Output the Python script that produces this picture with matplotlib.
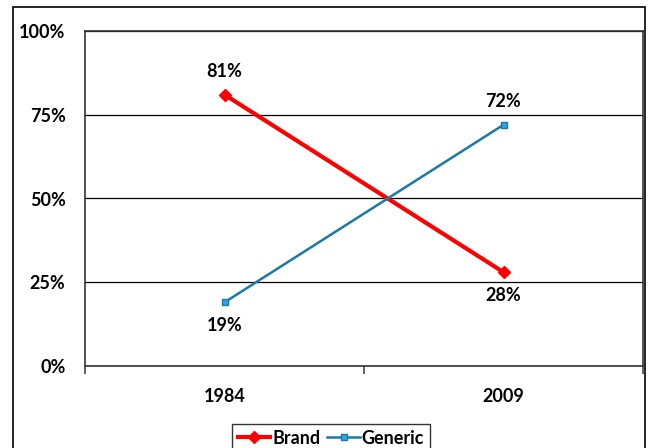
import matplotlib.pyplot as plt
from matplotlib.patches import Rectangle
from matplotlib.ticker import FixedLocator

# Share of prescriptions
years = ["1984", "2009"]
brand = [81, 28]
generic = [19, 72]

plt.rcParams["font.family"] = ["Lato", "DejaVu Sans"]
plt.rcParams["font.weight"] = "bold"
FS = 13

fig = plt.figure(figsize=(6.48, 4.48), dpi=100)
ax = fig.add_axes([85 / 648, 82 / 448, 558 / 648, 335 / 448])

# outer chart frame (runs off the bottom edge like the original)
fig.patches.append(Rectangle((13 / 648, -0.05), 632 / 648, 1.05 - 7 / 448,
                             transform=fig.transFigure, fill=False,
                             edgecolor="black", linewidth=1.2, zorder=0))

xs = [0, 1]
ax.plot(xs, brand, color="#ff0000", linewidth=3, marker="D", markersize=6,
        label="Brand", zorder=3)
ax.plot(xs, generic, color="#1a7aa6", linewidth=1.8, marker="s", markersize=5,
        markerfacecolor="#2fa6db", markeredgecolor="#1a7aa6", label="Generic",
        zorder=3)

for series in (brand, generic):
    for x, v in zip(xs, series):
        off = 17 if v > 50 else -17
        ax.annotate(f"{v}%", (x, v), xytext=(0, off), textcoords="offset points",
                    ha="center", va="center", fontsize=FS, fontweight="bold")

ax.set_xlim(-0.5, 1.5)
ax.set_ylim(0, 100)
ax.set_yticks([0, 25, 50, 75, 100])
ax.set_yticklabels(["0%", "25%", "50%", "75%", "100%"], fontsize=FS,
                   fontweight="bold")
ax.tick_params(axis="y", length=0, pad=14)
ax.yaxis.grid(True, color="black", linewidth=0.9)
ax.set_axisbelow(True)

ax.set_xticks(xs)
ax.set_xticklabels(years, fontsize=FS, fontweight="bold")
ax.tick_params(axis="x", length=0, pad=16)
ax.xaxis.set_minor_locator(FixedLocator([-0.5, 0.5, 1.5]))
ax.tick_params(axis="x", which="minor", length=6, width=1.2, color="#444444")

for s in ax.spines.values():
    s.set_color("#333333")
    s.set_linewidth(1.2)

leg = fig.legend(loc="center", bbox_to_anchor=(331 / 648, 0.022),
                 ncol=2, frameon=True, fancybox=False, edgecolor="black",
                 handlelength=1.8, handletextpad=0.1,
                 columnspacing=0.4, borderpad=0.3,
                 prop={"weight": "bold", "size": FS})
leg.get_frame().set_linewidth(1.0)

fig.savefig("out.png", dpi=100)
